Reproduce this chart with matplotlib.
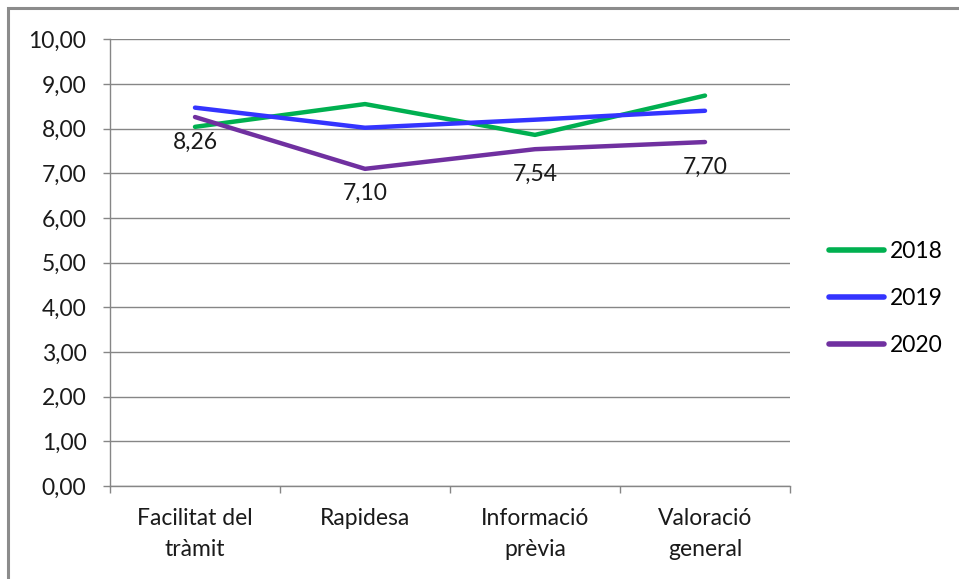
import matplotlib
matplotlib.use("Agg")
import matplotlib.pyplot as plt
from matplotlib.patches import Rectangle

categories = ["Facilitat del\ntràmit", "Rapidesa", "Informació\nprèvia", "Valoració\ngeneral"]
years = ["2018", "2019", "2020"]
values_2018 = [8.04, 8.55, 7.86, 8.74]
values_2019 = [8.47, 8.02, 8.20, 8.40]
values_2020 = [8.26, 7.10, 7.54, 7.70]
yticks = [0, 1, 2, 3, 4, 5, 6, 7, 8, 9, 10]

series = [values_2018, values_2019, values_2020]
colors = ["#00B050", "#3434FF", "#7030A0"]

plt.rcParams["font.family"] = ["Lato", "DejaVu Sans"]
FS = 16.5
GRID = "#868686"

fig = plt.figure(figsize=(9.59, 5.79), dpi=100)
W, H = 959, 579

# chart-area frame
fig.patches.append(Rectangle((8 / W, -0.1), 1.2, 1 - 8 / H + 0.1,
                             transform=fig.transFigure, fill=False,
                             edgecolor="#8c8c8c", linewidth=2.2, zorder=0))

ax = fig.add_axes([110 / W, 1 - 486 / H, 680 / W, (486 - 39.3) / H])

x = list(range(len(categories)))
for vals, c, lab in zip(series, colors, years):
    ax.plot(x, vals, color=c, linewidth=3.2, solid_capstyle="round",
            solid_joinstyle="round", label=lab, zorder=3)

# value labels for 2020
for xi, v in zip(x, values_2020):
    ax.annotate(f"{v:.2f}".replace(".", ","), (xi, v), xytext=(0, -18),
                textcoords="offset points", ha="center", va="center",
                fontsize=FS, color="#1a1a1a", zorder=4)

ax.set_xlim(-0.5, len(categories) - 0.5)
ax.set_ylim(0, 10)
ax.set_yticks(yticks)
ax.set_yticklabels([f"{t:.2f}".replace(".", ",") for t in yticks], fontsize=FS, color="#1a1a1a")
ax.yaxis.grid(True, color=GRID, linewidth=1.0)
ax.set_axisbelow(True)

ax.set_xticks(x)
ax.set_xticklabels(categories, fontsize=FS, color="#1a1a1a", linespacing=1.58)
ax.set_xticks([i - 0.5 for i in range(len(categories) + 1)], minor=True)
ax.tick_params(axis="x", which="major", length=0, pad=16)
ax.tick_params(axis="x", which="minor", length=5, color=GRID, width=1.0)
ax.tick_params(axis="y", length=5, color=GRID, width=1.0, pad=12)

for s in ["top", "right"]:
    ax.spines[s].set_visible(False)
for s in ["left", "bottom"]:
    ax.spines[s].set_color(GRID)
    ax.spines[s].set_linewidth(1.0)

leg = fig.legend(loc="upper left", bbox_to_anchor=(820 / W, 1 - 232 / H),
                 frameon=False, fontsize=FS, handlelength=2.4, handletextpad=0.25,
                 labelspacing=1.14, borderaxespad=0)
for line in leg.get_lines():
    line.set_linewidth(4)
    line.set_solid_capstyle("round")

fig.savefig("out.png", dpi=100)
